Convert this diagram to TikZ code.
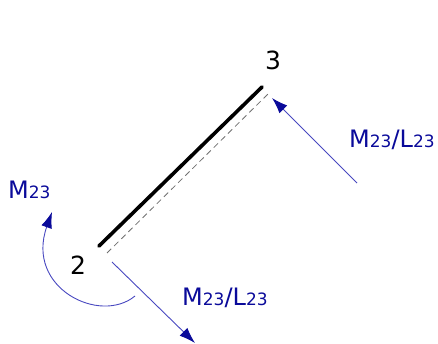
\documentclass[tikz,border=0pt]{standalone}
\usepackage{fontspec}
\setmainfont{DejaVu Sans}
\usetikzlibrary{arrows.meta,calc,positioning}
\definecolor{Ink}{HTML}{0A0A9A}
\definecolor{Shaft}{HTML}{4848C0}
\definecolor{Hatch}{HTML}{707070}
\newcommand{\idx}[1]{{\fontsize{17}{20}\selectfont #1}}
\tikzset{
  load/.style={-{Latex[length=16pt, width=11pt, fill=Ink, color=Ink]}, line width=0.9pt, color=Shaft},
  tag/.style={color=Ink, inner sep=0pt, anchor=west, font=\fontsize{24}{28}\selectfont},
  joint/.style={inner sep=0pt, font=\fontsize{25}{28}\selectfont}
}

\begin{document}
\begin{tikzpicture}[>=Latex, x=1pt, y=-1pt]
    \useasboundingbox (0,0) rectangle (438,344);
    % member 2-3
    \coordinate (p2) at (99,246);
    \coordinate (p3) at (262,87);
    \coordinate (q2) at (107,253);
    \coordinate (q3) at (268,94);
    \draw[line width=3.6pt, line cap=round] (p2) -- (p3);
    \draw[line width=0.8pt, color=Hatch, dash pattern=on 6pt off 4pt] (q2) -- (q3);
    \node[joint] (n2) at (78,265) {2};
    \node[joint] (n3) at (273,60) {3};
    % shear at 3
    \coordinate (s3) at (357,183);
    \coordinate (t3) at (272,98);
    \draw[load] (s3) -- (t3);
    \node[tag] (v3) at (349,140) {M\idx{23}/L\idx{23}};
    % shear at 2
    \coordinate (s2) at (112,262);
    \coordinate (t2) at (195,343);
    \draw[load] (s2) -- (t2);
    \node[tag] (v2) at (182,298) {M\idx{23}/L\idx{23}};
    % moment at 2
    \coordinate (m0) at (135,296);
    \coordinate (m1) at (52,212);
    \draw[load] (m0) .. controls (100,325) and (25,288) .. (m1);
    \node[tag] (mm) at (8,190) {M\idx{23}};
\end{tikzpicture}
\end{document}
